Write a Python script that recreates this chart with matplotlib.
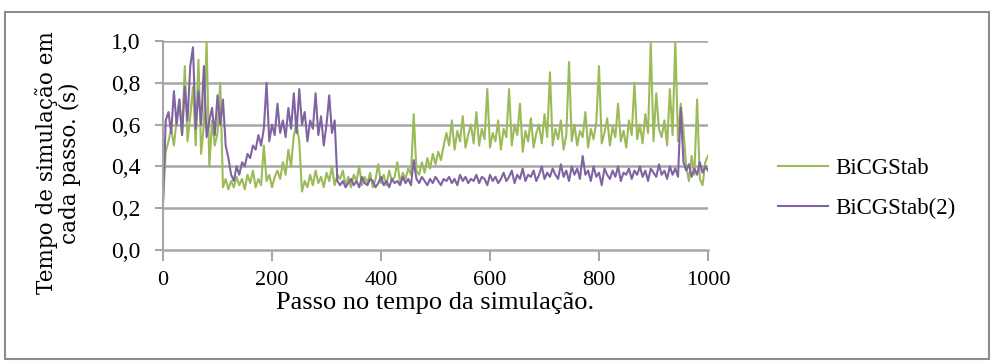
import numpy as np
import matplotlib
matplotlib.use("Agg")
import matplotlib.pyplot as plt
from matplotlib.patches import Rectangle

# passo no tempo (a cada 5 passos)
steps = list(range(0, 1001, 5))

bicgstab = [
    # 0-120
    0.23, 0.47, 0.52, 0.58, 0.50, 0.62, 0.72, 0.55, 0.88, 0.52, 0.64, 0.78, 0.50,
    0.91, 0.46, 0.60, 1.00, 0.40, 0.62, 0.50, 0.56, 0.80, 0.30, 0.34, 0.29,
    # 125-240
    0.33, 0.30, 0.35, 0.31, 0.34, 0.29, 0.36, 0.32, 0.38, 0.30, 0.34, 0.31, 0.50,
    0.33, 0.36, 0.30, 0.35, 0.38, 0.34, 0.42, 0.36, 0.48, 0.40, 0.55,
    # 245-320
    0.60, 0.52, 0.28, 0.33, 0.30, 0.36, 0.31, 0.38, 0.32, 0.35, 0.30, 0.37, 0.33,
    0.40, 0.31, 0.36,
    # 325-455
    0.34, 0.38, 0.31, 0.35, 0.30, 0.36, 0.33, 0.40, 0.31, 0.35, 0.32, 0.37, 0.30,
    0.34, 0.41, 0.32, 0.36, 0.31, 0.38, 0.33, 0.35, 0.42, 0.32, 0.37, 0.34, 0.39, 0.36,
    # 460-515
    0.65, 0.38, 0.36, 0.42, 0.37, 0.44, 0.39, 0.46, 0.41, 0.47, 0.43, 0.50,
    # 520-955
    0.56, 0.50, 0.62, 0.48, 0.57, 0.52, 0.64, 0.49, 0.55, 0.60,
    0.51, 0.66, 0.50, 0.58, 0.53, 0.77, 0.49, 0.56, 0.52, 0.62,
    0.48, 0.58, 0.54, 0.77, 0.50, 0.60, 0.55, 0.70, 0.47, 0.57,
    0.52, 0.63, 0.49, 0.56, 0.60, 0.51, 0.65, 0.54, 0.85, 0.50,
    0.58, 0.53, 0.62, 0.48, 0.55, 0.90, 0.52, 0.60, 0.50, 0.57,
    0.54, 0.66, 0.49, 0.58, 0.53, 0.61, 0.88, 0.51, 0.56, 0.63,
    0.50, 0.59, 0.54, 0.70, 0.52, 0.57, 0.49, 0.62, 0.55, 0.80,
    0.53, 0.60, 0.51, 0.65, 0.56, 0.99, 0.52, 0.75, 0.58, 0.54,
    0.62, 0.50, 0.77, 0.55, 1.00, 0.52, 0.70, 0.57,
    # 960-1000
    0.40, 0.33, 0.45, 0.36, 0.72, 0.34, 0.31, 0.42, 0.45,
]

bicgstab2 = [
    # 0-120
    0.22, 0.62, 0.66, 0.56, 0.76, 0.60, 0.72, 0.55, 0.78, 0.62, 0.88, 0.97, 0.58,
    0.76, 0.60, 0.88, 0.54, 0.62, 0.68, 0.55, 0.74, 0.60, 0.72, 0.50, 0.44,
    # 125-240
    0.36, 0.33, 0.40, 0.36, 0.42, 0.40, 0.46, 0.44, 0.50, 0.48, 0.55, 0.50, 0.58,
    0.80, 0.52, 0.60, 0.55, 0.70, 0.56, 0.62, 0.54, 0.68, 0.58, 0.75,
    # 245-320
    0.56, 0.77, 0.60, 0.66, 0.52, 0.62, 0.58, 0.75, 0.55, 0.64, 0.50, 0.60, 0.74,
    0.56, 0.62, 0.33,
    # 325-455
    0.31, 0.33, 0.30, 0.32, 0.34, 0.31, 0.33, 0.30, 0.35, 0.32, 0.31, 0.34, 0.33,
    0.30, 0.32, 0.35, 0.31, 0.33, 0.30, 0.34, 0.32, 0.33, 0.31, 0.35, 0.32, 0.34, 0.31,
    # 460-515
    0.43, 0.34, 0.32, 0.35, 0.33, 0.31, 0.34, 0.32, 0.35, 0.33, 0.31, 0.34,
    # 520-955
    0.33, 0.35, 0.32, 0.34, 0.31, 0.36, 0.33, 0.35, 0.32, 0.34,
    0.33, 0.36, 0.32, 0.35, 0.34, 0.31, 0.36, 0.33, 0.35, 0.32,
    0.34, 0.37, 0.33, 0.35, 0.38, 0.32, 0.36, 0.34, 0.39, 0.33,
    0.36, 0.35, 0.38, 0.33, 0.36, 0.40, 0.34, 0.37, 0.35, 0.39,
    0.36, 0.34, 0.41, 0.35, 0.38, 0.33, 0.40, 0.36, 0.39, 0.34,
    0.45, 0.36, 0.38, 0.33, 0.40, 0.35, 0.37, 0.31, 0.39, 0.36,
    0.34, 0.38, 0.35, 0.40, 0.33, 0.37, 0.36, 0.39, 0.34, 0.38,
    0.36, 0.40, 0.35, 0.38, 0.33, 0.39, 0.37, 0.35, 0.41, 0.36,
    0.38, 0.34, 0.40, 0.36, 0.39, 0.35, 0.68, 0.42,
    # 960-1000
    0.38, 0.41, 0.35, 0.39, 0.36, 0.42, 0.37, 0.40, 0.38,
]

yticks = [0.0, 0.2, 0.4, 0.6, 0.8, 1.0]
ytick_labels = ["0,0", "0,2", "0,4", "0,6", "0,8", "1,0"]
xticks = [0, 200, 400, 600, 800, 1000]

plt.rcParams['font.family'] = ['Liberation Serif', 'DejaVu Serif']
grid_col = "#a6a6a6"

fig = plt.figure(figsize=(9.92, 3.62), dpi=100)
ax = fig.add_axes([163 / 992, 1 - 250 / 362, 545 / 992, 209 / 362])

ax.plot(steps, bicgstab, color="#9bbb59", lw=1.5, label="BiCGStab")
ax.plot(steps, bicgstab2, color="#8064a2", lw=1.5, label="BiCGStab(2)")

ax.set_xlim(0, 1000)
ax.set_ylim(0, 1.0)
ax.set_xticks(xticks)
ax.set_yticks(yticks)
ax.set_yticklabels(ytick_labels)
ax.tick_params(axis="both", color=grid_col, width=1.5)
ax.tick_params(axis="x", length=8, pad=7, labelsize=16)
ax.tick_params(axis="y", length=6, pad=10, labelsize=17)

for y in yticks[1:]:
    ax.axhline(y, color=grid_col, lw=1.8, zorder=0)
for s in ["top", "right"]:
    ax.spines[s].set_visible(False)
ax.spines["left"].set_color(grid_col)
ax.spines["bottom"].set_color(grid_col)
ax.spines["left"].set_linewidth(1.5)
ax.spines["bottom"].set_linewidth(1.8)

ax.set_xlabel("Passo no tempo da simulação.", fontsize=19)
ax.xaxis.set_label_coords(0.5, -0.2)
fig.text(58 / 992, 1 - 163 / 362, "Tempo de simulação em\ncada passo. (s)",
         rotation=90, ha="center", va="center", fontsize=15.5,
         family=["DejaVu Serif"], linespacing=1.05)

ax.legend(loc="center left", bbox_to_anchor=(1.09, 0.294), frameon=False,
          fontsize=16.5, handlelength=2.2, labelspacing=0.85, handletextpad=0.3)

fig.patches.append(Rectangle((5 / 992, 3 / 362), 984 / 992, 347 / 362,
                             transform=fig.transFigure, fill=False,
                             edgecolor="#8c8c8c", lw=1.5))

fig.savefig("out.png", dpi=100)
